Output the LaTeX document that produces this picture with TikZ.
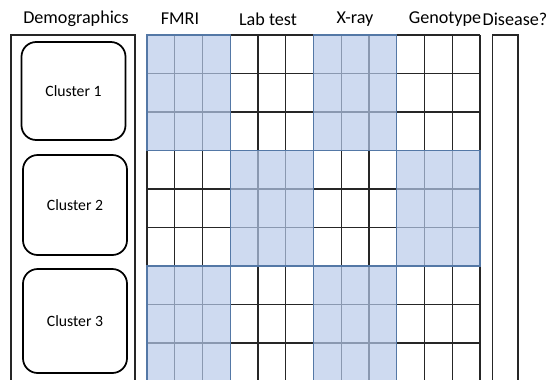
\documentclass[tikz,border=0pt]{standalone}
\usepackage{fontspec}
\setmainfont{Carlito}
\definecolor{cellblue}{RGB}{206,218,240}
\definecolor{edgeblue}{RGB}{84,120,166}
\definecolor{innerblue}{RGB}{138,152,176}
\begin{document}
\begin{tikzpicture}[x=0.75pt,y=-0.75pt,%
        every node/.style={font=\fontsize{13.6}{15}\selectfont,inner sep=0pt},
        cluster/.style={draw=black,line width=1.3pt,rounded corners=11pt,
          font=\fontsize{11.8}{13}\selectfont,minimum width=78pt},
        plain/.style={draw=black!85,line width=0.8pt},
        shade/.style={fill=cellblue,draw=innerblue,line width=0.8pt},
        rim/.style={draw=edgeblue,line width=1pt}]
  \useasboundingbox (0,0) rectangle (547,379);
  \clip (0,0) rectangle (547,379);
  % headers
  \node (hdem) at (76,19) {Demographics};
  \node (hfmri) at (180,19) {FMRI};
  \node (hlab) at (268,19) {Lab test};
  \node (hxray) at (355,19) {X-ray};
  \node (hgeno) at (445,19) {Genotype};
  \node (hdis) at (515,19) {Disease?};
  % demographics column
  \draw[plain,line width=0.9pt] (11,35) rectangle (135,390);
  \node[cluster,minimum height=73.5pt] (c1) at (73.5,91) {Cluster 1};
  \node[cluster,minimum height=75pt] (c2) at (75,205) {Cluster 2};
  \node[cluster,minimum height=78pt] (c3) at (75,321) {Cluster 3};
  % white grid
  \foreach \i in {0,...,12}
    \draw[plain] (147+27.75*\i,35) -- (147+27.75*\i,390);
  \foreach \j in {0,...,9}
    \draw[plain] (147,35+38.5*\j) -- (480,35+38.5*\j);
  % shaded blocks
  \foreach \b in {0,1,2}
    \foreach \m in {0,1,2,3} {
      \pgfmathtruncatemacro{\odd}{mod(\b+\m,2)}
      \ifnum\odd=0
        \foreach \i in {0,1,2}
          \foreach \j in {0,1,2}
            \draw[shade] (147+83.25*\m+27.75*\i,35+115.5*\b+38.5*\j)
              rectangle ++(27.75,38.5);
        \draw[rim] (147+83.25*\m,35+115.5*\b) rectangle ++(83.25,115.5);
      \fi
    }
  % disease column
  \draw[plain] (492.5,35) rectangle (518,390);
\end{tikzpicture}
\end{document}
